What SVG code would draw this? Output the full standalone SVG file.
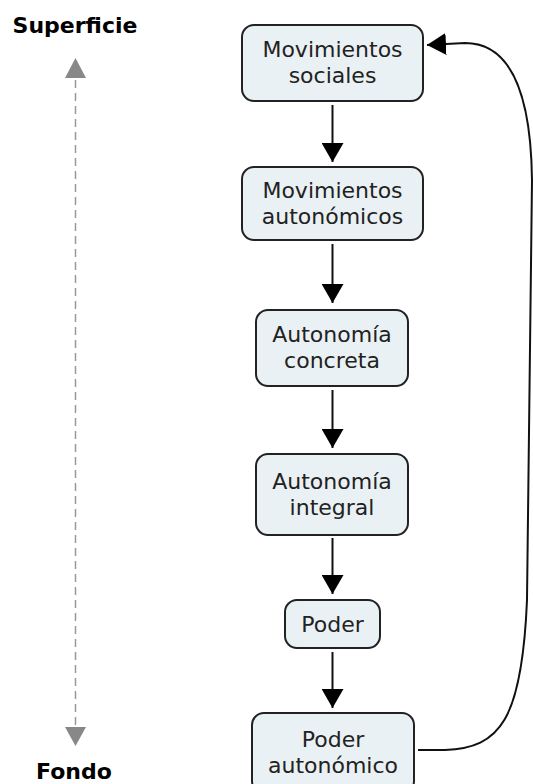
<svg xmlns="http://www.w3.org/2000/svg" width="533" height="784" viewBox="0 0 533 784">
<style>
.box{fill:#eaf1f4;stroke:#222;stroke-width:2}
.t{font-family:"DejaVu Sans","Verdana",sans-serif;font-size:22px;fill:#222;text-anchor:middle}
.lbl{font-family:"DejaVu Sans","Verdana",sans-serif;font-size:22px;font-weight:bold;fill:#000;text-anchor:middle}
.c{fill:none;stroke:#111;stroke-width:2}
</style>
<defs>
<marker id="ah" markerUnits="userSpaceOnUse" markerWidth="20" markerHeight="22" refX="19" refY="11" orient="auto">
<path d="M0,0 L19,11 L0,22 z" fill="#000"/>
</marker>
</defs>
<g id="scale">
<line x1="75.5" y1="80" x2="75.5" y2="726" stroke="#999" stroke-width="1.5" stroke-dasharray="8 5"/>
<polygon points="65,78 86,78 75.5,58" fill="#888"/>
<polygon points="65,727 86,727 75.5,746" fill="#888"/>
<text class="lbl" x="75" y="33">Superficie</text>
<text class="lbl" x="74" y="779">Fondo</text>
</g>
<g id="n1"><rect class="box" x="242" y="25" width="181" height="76" rx="12"/><text class="t" x="332.5" y="57">Movimientos</text><text class="t" x="332.5" y="83">sociales</text></g>
<g id="n2"><rect class="box" x="242" y="167" width="181" height="73" rx="12"/><text class="t" x="332.5" y="198">Movimientos</text><text class="t" x="332.5" y="224">autonómicos</text></g>
<g id="n3"><rect class="box" x="256" y="310" width="152" height="76" rx="12"/><text class="t" x="332" y="342">Autonomía</text><text class="t" x="332" y="368">concreta</text></g>
<g id="n4"><rect class="box" x="256" y="454" width="152" height="81" rx="12"/><text class="t" x="332" y="489">Autonomía</text><text class="t" x="332" y="515">integral</text></g>
<g id="n5"><rect class="box" x="285" y="600" width="95" height="48" rx="12"/><text class="t" x="332.5" y="632">Poder</text></g>
<g id="n6"><rect class="box" x="252" y="713" width="162" height="80" rx="12"/><text class="t" x="333" y="747">Poder</text><text class="t" x="333" y="773">autonómico</text></g>
<g id="connectors">
<line class="c" x1="332.5" y1="105" x2="332.5" y2="162" marker-end="url(#ah)"/>
<line class="c" x1="332.5" y1="244" x2="332.5" y2="303" marker-end="url(#ah)"/>
<line class="c" x1="332.5" y1="390" x2="332.5" y2="448" marker-end="url(#ah)"/>
<line class="c" x1="332.5" y1="538" x2="332.5" y2="594" marker-end="url(#ah)"/>
<line class="c" x1="332.5" y1="652" x2="332.5" y2="708" marker-end="url(#ah)"/>
<path class="c" d="M418,750 L445,750 C500,748 522,720 527,600 L532,180 C531,95 512,43 465,43 L427,45" marker-end="url(#ah)"/>
</g>
</svg>
